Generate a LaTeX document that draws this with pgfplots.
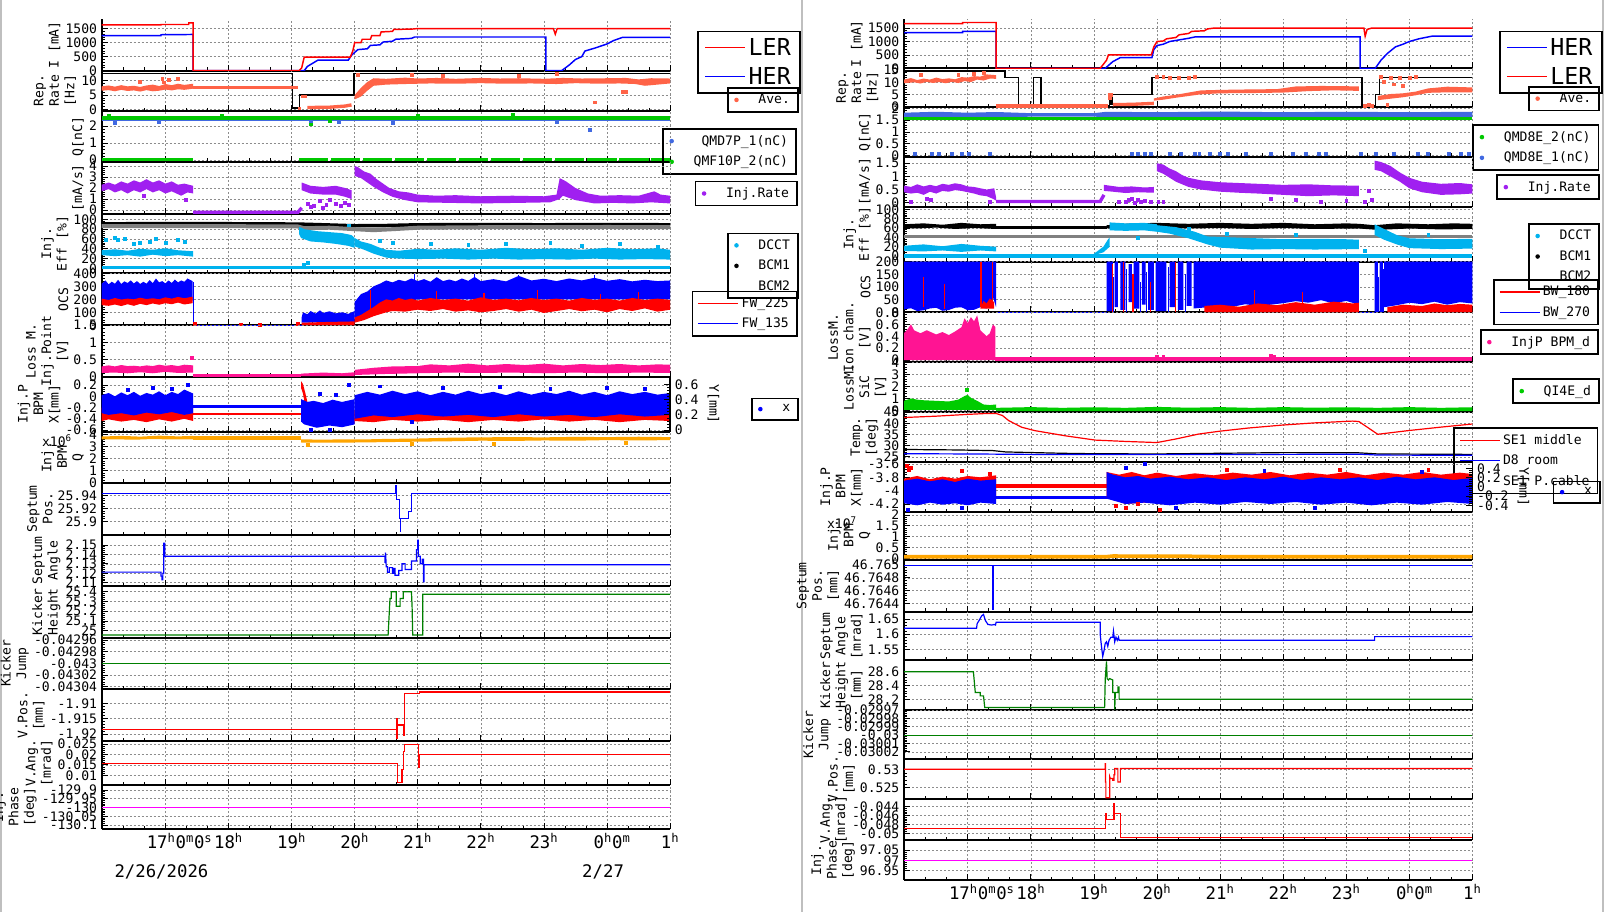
\documentclass[border=0pt]{standalone}
\usepackage{fontspec}
\setmainfont{DejaVu Sans Mono}
\usepackage{pgfplots}
\pgfplotsset{compat=1.18}
\definecolor{cLER}{RGB}{255,0,0}
\definecolor{cHER}{RGB}{0,0,255}
\definecolor{cAve}{RGB}{255,99,71}
\definecolor{cQg}{RGB}{0,200,0}
\definecolor{cQb}{RGB}{65,105,225}
\definecolor{cPur}{RGB}{160,32,240}
\definecolor{cDcct}{RGB}{0,178,238}
\definecolor{cGray}{RGB}{128,128,128}
\definecolor{cPink}{RGB}{255,20,147}
\definecolor{cOra}{RGB}{255,165,0}
\definecolor{cKick}{RGB}{0,128,0}
\definecolor{cMag}{RGB}{255,0,255}
\definecolor{cSic}{RGB}{0,204,0}
\newcommand\tf{\fontsize{9.8}{11}\selectfont}
\newcommand\yf{\fontsize{9.8}{11.6}\selectfont}
\newcommand\xf{\fontsize{13}{15}\selectfont}
\newcommand\bigf{\fontsize{17.5}{21}\selectfont}
\pgfplotsset{
 base/.style={scale only axis, width=426.3pt, anchor=north west, xmin=15.99, xmax=25, clip=true,
   scaled ticks=false, /pgf/number format/assume math mode=true, tick align=inside,
   tick label style={font=\tf}, major tick length=4.5pt, minor tick length=2.4pt,
   every tick/.style={black, line width=0.6pt}},
 panel/.style={base, xtick={17,...,25},
   minor xtick={16.3333,16.6667,17.3333,17.6667,18.3333,18.6667,19.3333,19.6667,20.3333,20.6667,21.3333,21.6667,22.3333,22.6667,23.3333,23.6667,24.3333,24.6667},
   xticklabels={}, axis x line*=bottom, axis y line*=left, axis line style={-, line width=1.3pt},
   grid=major, grid style={dash pattern=on 1.5pt off 1.5pt, black!45, line width=0.45pt},
   minor y tick num=4, ylabel style={font=\yf, align=center, at={(ticklabel cs:0.5,-3pt)}},
   legend style={draw=black, fill=none, line width=1.3pt, font=\tf, inner xsep=4pt, inner ysep=2.5pt, row sep=2.6pt},
   legend cell align=right},
 rpanel/.style={base, axis x line=none, axis y line*=right, axis line style={-, line width=1.1pt},
   minor y tick num=4, ylabel style={font=\yf, rotate=180}},
 bottomx/.style={xticklabels={\makebox[0pt][l]{\hspace*{-14pt}17\textsuperscript{h}0\textsuperscript{m}0\textsuperscript{s}},18\textsuperscript{h},19\textsuperscript{h},20\textsuperscript{h},21\textsuperscript{h},22\textsuperscript{h},23\textsuperscript{h},\makebox[0pt][l]{\hspace*{-10pt}0\textsuperscript{h}0\textsuperscript{m}},1\textsuperscript{h}},
   xticklabel style={font=\xf}},
 dotleg/.style={legend image code/.code={\path[draw=none] (0pt,0pt) -- (17pt,0pt); \fill[#1, draw=none] (2.5pt,0pt) circle (1.7pt);}},
 sq/.style={only marks, mark=square*, mark size=1.1pt, #1, forget plot},
 band/.style={draw=none, fill=#1, forget plot},
 ln/.style={#1, line width=1.1pt, forget plot},
}
\begin{document}
\begin{tikzpicture}
\useasboundingbox (0pt,0pt) rectangle (1204.5pt,-684pt);
\fill[white] (0pt,0pt) rectangle (1204.5pt,-684pt);
\draw[black!25, line width=1.5pt] (0.75pt,0pt) -- (0.75pt,-684pt);
\draw[black!25, line width=1.5pt] (601.5pt,0pt) -- (601.5pt,-684pt);
\draw[black!25, line width=1.5pt] (1202.5pt,0pt) -- (1202.5pt,-684pt);

% ================= LEFT COLUMN =================
% L1
\begin{axis}[panel, at={(76.275pt,-14.475pt)}, height=38.55pt, ymin=0, ymax=1830, ytick={0,500,1000,1500}, yticklabels={0,500,1000,1500}, ylabel={I [mA]},
 legend style={at={(axis description cs:1.048,0.778)}, anchor=north west, font=\bigf, inner xsep=5pt, inner ysep=3pt, row sep=3.5pt},
 legend image code/.code={\draw[#1] (0pt,0pt) -- (30pt,0pt);}]
\addlegendimage{cLER, line width=0.8pt}\addlegendentry{LER}
\addlegendimage{cHER, line width=0.8pt}\addlegendentry{HER}
\addplot[ln=cHER] coordinates {(15.99,1250)(16.93,1250)(16.93,1280)(17.44,1290)(17.44,0)(19.2,0)(19.25,150)(19.42,380)(19.9,380)(19.95,550)(20.05,750)(20.2,780)(20.25,900)(20.4,920)(20.45,1020)(20.6,1050)(20.65,1120)(20.9,1150)(20.95,1200)(23.03,1200)(23.03,0)(23.28,0)(23.4,200)(23.5,400)(23.6,500)(23.65,700)(23.8,800)(24.0,950)(24.1,1070)(24.25,1190)(25,1190)};
\addplot[ln=cLER] coordinates {(15.99,1630)(16.93,1630)(16.93,1645)(17.37,1645)(17.37,1700)(17.44,1700)(17.44,0)(19.12,0)(19.16,100)(19.2,480)(19.93,480)(19.97,700)(20.0,1000)(20.1,1000)(20.12,1120)(20.25,1120)(20.27,1250)(20.4,1250)(20.42,1380)(20.6,1400)(20.62,1470)(20.9,1480)(21.0,1500)(23.15,1500)(23.18,1300)(23.21,1500)(25,1500)};
\end{axis}

% L2
\begin{axis}[panel, at={(76.275pt,-53.025pt)}, height=30.225pt, ymin=-0.5, ymax=13.4, ytick={0,5,10}, yticklabels={0,5,10}, ylabel={Rep.\\Rate\\{}[Hz]},
 legend style={at={(axis description cs:1.1,0.588)}, anchor=north west}]
\addlegendimage{dotleg=cAve}\addlegendentry{Ave.}
\addplot[ln=black, line width=0.9pt] coordinates {(15.99,12.5)(19.02,12.5)(19.02,0.5)(19.12,0.5)(19.12,5)(19.99,5)(19.99,12.5)(25,12.5)};
\addplot[band=cAve] coordinates {(15.99,8.0)(16.1,8.3)(16.2,7.9)(16.3,8.4)(16.4,8.0)(16.5,8.2)(16.6,7.8)(16.7,8.3)(16.8,8.6)(16.9,8.1)(17.0,8.8)(17.1,8.4)(17.2,8.9)(17.3,8.5)(17.44,8.9)(17.44,7.2)(17.3,6.8)(17.2,7.0)(17.1,6.6)(17.0,6.9)(16.9,6.5)(16.8,6.3)(16.7,6.7)(16.6,6.2)(16.5,6.6)(16.4,6.4)(16.3,6.8)(16.2,6.3)(16.1,6.7)(15.99,6.5)};
\addplot[sq=cAve] coordinates {(16.95,10.6)(17.05,10.2)(17.2,10.5)(16.6,9.5)(16.97,9.4)};
\addplot[ln=cAve, line width=2.5pt] coordinates {(17.44,7.65)(19.1,7.65)};
\addplot[ln=cAve, line width=2.5pt] coordinates {(19.1,0.3)(19.15,0.3)};
\addplot[ln=cAve, line width=2.5pt] coordinates {(19.15,4.4)(19.25,4.4)};
\addplot[ln=cAve, line width=2.5pt] coordinates {(19.25,0.7)(19.6,0.8)(19.85,1.2)(19.95,1.6)};
\addplot[band=cAve] coordinates {(20.0,5.0)(20.1,7.5)(20.2,9.5)(20.3,10.8)(20.5,10.6)(20.8,11.0)(21.0,10.7)(21.3,10.9)(21.6,10.6)(22.0,10.9)(22.3,10.7)(22.6,10.8)(23.0,10.6)(23.3,10.9)(23.6,10.7)(24.0,10.8)(24.3,10.9)(24.5,10.4)(24.7,10.8)(25,10.7)(25,9.0)(24.8,8.6)(24.6,8.2)(24.45,8.8)(24.2,9.0)(23.9,8.9)(23.5,9.1)(23.2,8.8)(22.8,9.0)(22.4,8.9)(22.0,9.1)(21.6,8.9)(21.2,9.0)(20.8,8.8)(20.5,8.6)(20.3,8.2)(20.2,6.5)(20.1,4.5)(20.0,3.5)};
\addplot[sq=cAve] coordinates {(20.05,12.1)(20.9,12)(21.4,11.6)(23.2,12.2)(23.8,2.5)(24.25,6)(24.3,6.2)(22.6,11.8)};
\end{axis}

% L3
\begin{axis}[panel, at={(76.275pt,-83.25pt)}, height=38.025pt, ymin=-0.1, ymax=2.88, ytick={0,1,2}, yticklabels={0,1,2}, ylabel={Q[nC]},
 legend style={at={(axis description cs:0.986,0.659)}, anchor=north west}]
\addlegendimage{dotleg=cQb}\addlegendentry{QMD7P\_1(nC)}
\addlegendimage{dotleg=cQg}\addlegendentry{QMF10P\_2(nC)}
\addplot[ln=cQb, line width=2.2pt] coordinates {(15.99,2.35)(25,2.35)};
\addplot[sq=cQb] coordinates {(16.2,2.2)(16.9,2.22)(19.3,2.2)(19.75,2.22)(20.6,2.2)(23.2,2.22)(23.72,1.8)};
\addplot[ln=cQg, line width=3pt] coordinates {(15.99,2.48)(25,2.48)};
\addplot[sq=cQg] coordinates {(16.1,2.62)(17.9,2.62)(19.3,2.1)(19.6,2.3)(21.0,2.62)(22.5,2.64)};
\addplot[ln=cQg, line width=2.4pt] coordinates {(15.99,0.02)(17.44,0.02)};
\addplot[ln=cQg, line width=2.4pt, dash pattern=on 22pt off 2pt] coordinates {(19.12,0.02)(25,0.02)};
\end{axis}

% L4
\begin{axis}[panel, at={(76.275pt,-121.275pt)}, height=39.225pt, ymin=-0.36, ymax=4.39, ytick={0,1,2,3,4}, yticklabels={0,1,2,3,4}, ylabel={{}[mA/s]},
 legend style={at={(axis description cs:1.043,0.637)}, anchor=north west}]
\addlegendimage{dotleg=cPur}\addlegendentry{Inj.Rate}
\addplot[band=cPur] coordinates {(15.99,2.3)(16.1,2.5)(16.2,2.3)(16.3,2.6)(16.4,2.4)(16.5,2.7)(16.6,2.5)(16.7,2.8)(16.8,2.5)(16.9,2.7)(17.0,2.4)(17.1,2.6)(17.2,2.3)(17.3,2.4)(17.44,2.2)(17.44,1.5)(17.35,1.6)(17.25,1.3)(17.1,1.7)(17.0,1.5)(16.9,1.8)(16.8,1.6)(16.7,1.9)(16.6,1.6)(16.5,1.8)(16.4,1.5)(16.3,1.8)(16.2,1.6)(16.1,1.9)(15.99,1.7)};
\addplot[sq=cPur] coordinates {(16.65,1.3)(17.32,0.9)};
\addplot[ln=cPur, line width=2.5pt] coordinates {(17.44,-0.2)(19.1,-0.2)(19.16,0.2)};
\addplot[band=cPur] coordinates {(19.16,2.5)(19.3,2.2)(19.5,2.1)(19.7,2.2)(19.85,2.0)(19.95,1.8)(19.95,1.0)(19.85,1.2)(19.7,1.4)(19.5,1.4)(19.3,1.5)(19.16,1.8)};
\addplot[sq=cPur] coordinates {(19.25,0.6)(19.35,0.4)(19.45,0.8)(19.55,0.5)(19.6,0.9)(19.7,0.6)(19.78,0.35)(19.85,0.7)(19.9,0.5)(19.3,0.3)(19.5,0.2)};
\addplot[band=cPur] coordinates {(20.0,4.0)(20.05,3.9)(20.15,3.5)(20.25,3.3)(20.35,2.8)(20.45,2.4)(20.55,2.0)(20.7,1.7)(20.85,1.6)(21.0,1.4)(21.3,1.3)(21.6,1.35)(22.0,1.25)(22.5,1.3)(23.0,1.25)(23.2,1.4)(23.25,2.9)(23.35,2.6)(23.5,2.0)(23.7,1.5)(23.9,1.3)(24.2,1.35)(24.5,1.3)(24.75,1.7)(24.85,1.4)(25,1.3)(25,0.6)(24.7,0.7)(24.4,0.6)(24.1,0.65)(23.8,0.6)(23.5,0.9)(23.3,1.3)(23.25,1.0)(23.1,0.7)(22.6,0.65)(22.0,0.6)(21.5,0.65)(21.0,0.7)(20.8,0.9)(20.6,1.2)(20.45,1.6)(20.3,2.1)(20.2,2.5)(20.1,2.9)(20.0,3.1)};
\end{axis}

% L5
\begin{axis}[panel, at={(76.275pt,-160.5pt)}, height=44.475pt, ymin=-10, ymax=111, ytick={0,20,40,60,80,100}, yticklabels={0,20,40,60,80,100}, ylabel={Inj.\\Eff [\%]},
 legend style={at={(axis description cs:1.1,0.685)}, anchor=north west}]
\addlegendimage{dotleg=cDcct}\addlegendentry{DCCT}
\addlegendimage{dotleg=black}\addlegendentry{BCM1}
\addlegendimage{empty legend}\addlegendentry{BCM2}
\addplot[ln=black, line width=2.6pt] coordinates {(15.99,91)(17.44,91.5)(19.1,90.5)(19.5,89)(20.0,87)(20.5,87.5)(21,89)(22,89.5)(23,89)(24,89.5)(25,89)};
\addplot[ln=cGray, line width=3pt] coordinates {(15.99,86)(17.44,86.5)(19.1,85.5)(19.2,82)(19.6,83)(20.0,80)(20.3,78)(20.6,80)(21,83)(22,84)(23,84)(24,84.5)(25,84)};
\addplot[ln=cDcct, line width=2.5pt] coordinates {(15.99,2)(25,2)};
\addplot[band=cDcct] coordinates {(15.99,37)(16.2,39)(16.4,36)(16.6,40)(16.8,38)(17.0,41)(17.2,37)(17.44,35)(17.44,24)(17.2,27)(17.0,25)(16.8,28)(16.6,24)(16.4,27)(16.2,25)(15.99,27)};
\addplot[sq=cDcct] coordinates {(16.05,58)(16.2,62)(16.25,59)(16.35,60)(16.6,52)(16.75,55)(16.85,60)(17.0,52)(17.2,58)(17.3,55)(16.5,50)};
\addplot[band=cDcct] coordinates {(19.12,85)(19.2,80)(19.4,76)(19.6,74)(19.8,72)(19.95,68)(20.0,62)(20.0,42)(19.9,46)(19.7,50)(19.5,53)(19.3,55)(19.15,62)(19.12,70)};
\addplot[sq=cDcct] coordinates {(19.2,8)(19.25,12)(19.9,88)};
\addplot[band=cDcct] coordinates {(20.0,62)(20.1,55)(20.25,50)(20.4,42)(20.5,38)(20.7,36)(21.0,40)(21.3,38)(21.6,41)(22.0,38)(22.4,42)(22.8,39)(23.2,41)(23.6,38)(24.0,42)(24.4,39)(24.8,41)(25,38)(25,18)(24.6,19)(24.2,18)(23.8,20)(23.4,18)(23.0,19)(22.6,18)(22.2,20)(21.8,18)(21.4,20)(21.0,19)(20.7,20)(20.5,22)(20.3,30)(20.15,38)(20.0,45)};
\addplot[sq=cDcct] coordinates {(20.6,52)(21.2,50)(21.8,48)(22.4,50)(23.1,52)(23.6,47)(24.2,50)(24.8,45)(20.4,56)};
\end{axis}

% L6
\begin{axis}[panel, at={(76.275pt,-204.975pt)}, height=39pt, ymin=0, ymax=400, ytick={0,100,200,300,400}, yticklabels={0,100,200,300,400}, ylabel={OCS},
 legend style={at={(axis description cs:1.038,0.665)}, anchor=north west},
 legend image code/.code={\draw[#1] (0pt,0pt) -- (30pt,0pt);}]
\addlegendimage{cLER, line width=0.8pt}\addlegendentry{FW\_225}
\addlegendimage{cHER, line width=0.8pt}\addlegendentry{FW\_135}
\addplot[band=cHER] coordinates {(15.99,320)(16.05,345)(16.1,315)(16.15,335)(16.2,320)(16.25,350)(16.3,318)(16.35,338)(16.4,325)(16.45,345)(16.5,322)(16.55,340)(16.6,318)(16.65,335)(16.7,320)(16.75,348)(16.8,325)(16.85,360)(16.9,330)(16.95,340)(17.0,322)(17.05,345)(17.1,325)(17.15,352)(17.2,330)(17.25,345)(17.3,335)(17.35,360)(17.43,340)(17.43,190)(15.99,190)};
\addplot[band=cLER] coordinates {(15.99,205)(16.1,195)(16.2,210)(16.3,198)(16.4,205)(16.5,200)(16.6,212)(16.7,202)(16.8,208)(16.9,200)(17.0,215)(17.1,205)(17.2,218)(17.3,208)(17.43,220)(17.43,170)(17.3,160)(17.2,175)(17.1,162)(17.0,170)(16.9,158)(16.8,168)(16.7,155)(16.6,165)(16.5,150)(16.4,162)(16.3,148)(16.2,160)(16.1,150)(15.99,155)};
\addplot[ln=cHER, line width=0.9pt] coordinates {(17.44,330)(17.44,0)(19.16,0)};
\addplot[sq=cLER] coordinates {(17.46,15)(18.2,8)(18.5,6)(19.1,10)};
\addplot[band=cHER] coordinates {(19.16,60)(19.18,100)(19.25,85)(19.3,110)(19.38,90)(19.45,115)(19.5,95)(19.6,108)(19.7,92)(19.8,100)(19.9,88)(20.0,110)(20.0,20)(19.6,25)(19.16,20)};
\addplot[band=cLER] coordinates {(19.16,20)(19.5,25)(20.0,30)(20.0,0)(19.16,0)};
\addplot[band=cHER] coordinates {(20.0,180)(20.1,240)(20.2,260)(20.3,300)(20.4,320)(20.5,345)(20.6,330)(20.7,350)(20.8,338)(20.9,360)(21.0,340)(21.1,355)(21.2,335)(21.3,370)(21.4,340)(21.5,352)(21.6,338)(21.7,360)(21.8,342)(21.9,372)(22.0,340)(22.2,355)(22.4,338)(22.6,380)(22.8,345)(23.0,358)(23.2,340)(23.4,360)(23.6,345)(23.8,365)(24.0,342)(24.2,355)(24.4,338)(24.6,350)(24.8,340)(25,345)(25,200)(24,200)(23,200)(22,200)(21,200)(20.5,150)(20.2,100)(20.0,40)};
\addplot[band=cLER] coordinates {(20.0,60)(20.1,80)(20.2,110)(20.3,140)(20.4,175)(20.5,200)(20.6,190)(20.7,210)(20.8,195)(20.9,205)(21.0,190)(21.2,210)(21.4,195)(21.6,205)(21.8,190)(22.0,215)(22.2,195)(22.4,205)(22.6,192)(22.8,210)(23.0,195)(23.2,205)(23.4,190)(23.6,210)(23.8,195)(24.0,205)(24.2,190)(24.4,210)(24.6,195)(24.8,205)(25,195)(25,120)(24.8,105)(24.6,130)(24.4,110)(24.2,125)(24.0,100)(23.8,120)(23.6,108)(23.4,125)(23.2,110)(23.0,95)(22.8,120)(22.6,105)(22.4,125)(22.2,110)(22.0,100)(21.8,115)(21.6,105)(21.4,125)(21.2,110)(21.0,120)(20.8,105)(20.6,110)(20.5,100)(20.3,70)(20.15,40)(20.0,20)};
\addplot[ln=cLER, line width=0.8pt, unbounded coords=jump] coordinates {(20.25,120)(20.25,270)(20.25,nan)(21.3,150)(21.3,260)(21.3,nan)(22.05,160)(22.05,250)(22.05,nan)(22.9,150)(22.9,270)(22.9,nan)(23.9,160)(23.9,240)(23.9,nan)(24.5,150)(24.5,255)};
\addplot[ln=cHER, line width=0.8pt, unbounded coords=jump] coordinates {(21.9,300)(21.9,395)(21.9,nan)(22.6,300)(22.6,390)(22.6,nan)(23.8,300)(23.8,385)(23.8,nan)(20.95,300)(20.95,392)};
\end{axis}

% L7
\begin{axis}[panel, at={(76.275pt,-243.975pt)}, height=38.55pt, ymin=0, ymax=1.5, ytick={0,0.5,1,1.5}, yticklabels={0,0.5,1,1.5}, ylabel={Loss M.\\Inj.Point\\{}[V]}]
\addplot[band=cPink] coordinates {(15.99,0.3)(16.1,0.33)(16.2,0.3)(16.3,0.34)(16.4,0.31)(16.5,0.32)(16.6,0.3)(16.7,0.33)(16.8,0.31)(16.9,0.35)(17.0,0.32)(17.1,0.34)(17.2,0.31)(17.3,0.35)(17.44,0.33)(17.44,0.12)(17.2,0.11)(17.0,0.14)(16.8,0.1)(16.6,0.13)(16.4,0.1)(16.2,0.12)(15.99,0.11)};
\addplot[sq=cPink] coordinates {(17.42,0.56)};
\addplot[ln=cPink, line width=2.5pt] coordinates {(17.44,0.03)(19.15,0.03)};
\addplot[band=cPink] coordinates {(19.15,0.09)(19.5,0.12)(19.8,0.1)(20.0,0.13)(20.0,0.02)(19.15,0.02)};
\addplot[band=cPink] coordinates {(20.0,0.2)(20.3,0.26)(20.6,0.3)(21.0,0.31)(21.2,0.36)(21.5,0.33)(21.8,0.38)(22.1,0.33)(22.4,0.37)(22.7,0.34)(23.0,0.38)(23.3,0.33)(23.6,0.37)(23.9,0.34)(24.2,0.37)(24.5,0.33)(24.8,0.36)(25,0.35)(25,0.11)(24.5,0.12)(24.0,0.1)(23.5,0.12)(23.0,0.1)(22.5,0.12)(22.0,0.11)(21.5,0.12)(21.0,0.1)(20.5,0.08)(20.0,0.05)};
\end{axis}

% L8
\begin{axis}[panel, at={(76.275pt,-282.525pt)}, height=41.25pt, ymin=-0.63, ymax=0.35, ytick={-0.6,-0.4,-0.2,0,0.2}, yticklabels={-0.6,-0.4,-0.2,0,0.2}, ylabel={Inj.P\\BPM\\X[mm]},
 legend style={at={(axis description cs:1.142,0.618)}, anchor=north west}]
\addlegendimage{dotleg=cHER}\addlegendentry{x}
\addplot[band=cLER] coordinates {(15.99,-0.2)(16.2,-0.22)(16.4,-0.19)(16.6,-0.23)(16.8,-0.2)(17.0,-0.22)(17.2,-0.19)(17.44,-0.21)(17.44,-0.44)(17.3,-0.4)(17.1,-0.45)(16.9,-0.41)(16.7,-0.46)(16.5,-0.42)(16.3,-0.45)(16.1,-0.41)(15.99,-0.44)};
\addplot[band=cHER] coordinates {(15.99,0.02)(16.1,0.06)(16.2,0.0)(16.3,0.07)(16.4,0.02)(16.5,0.08)(16.6,0.01)(16.7,0.06)(16.8,0.03)(16.9,0.09)(17.0,0.02)(17.1,0.08)(17.2,0.04)(17.3,0.12)(17.44,0.05)(17.44,-0.3)(17.3,-0.33)(17.1,-0.28)(16.9,-0.32)(16.7,-0.29)(16.5,-0.34)(16.3,-0.3)(16.1,-0.33)(15.99,-0.3)};
\addplot[sq=cHER] coordinates {(16.8,0.15)(17.1,0.14)(17.35,0.2)(16.4,0.12)};
\addplot[ln=cHER, line width=2.3pt] coordinates {(17.44,-0.18)(19.15,-0.18)};
\addplot[ln=cLER, line width=1.8pt] coordinates {(17.44,-0.31)(19.15,-0.31)};
\addplot[band=cLER] coordinates {(19.15,0.27)(19.18,0.22)(19.22,0.05)(19.26,-0.15)(19.3,-0.25)(20.0,-0.28)(20.0,-0.48)(19.5,-0.5)(19.3,-0.45)(19.22,-0.2)(19.18,0.05)(19.15,0.15)};
\addplot[band=cHER] coordinates {(19.15,-0.05)(19.25,-0.1)(19.35,-0.08)(19.5,-0.12)(19.65,-0.06)(19.8,-0.1)(20.0,-0.05)(20.0,-0.5)(19.8,-0.55)(19.6,-0.52)(19.4,-0.56)(19.2,-0.5)(19.15,-0.45)};
\addplot[sq=cHER] coordinates {(19.45,0.05)(19.7,0.02)(19.9,0.2)(19.3,-0.6)(19.6,-0.6)};
\addplot[band=cLER] coordinates {(20.0,-0.24)(20.3,-0.21)(20.6,-0.25)(20.9,-0.2)(21.2,-0.24)(21.5,-0.21)(21.8,-0.25)(22.1,-0.2)(22.4,-0.24)(22.7,-0.21)(23.0,-0.25)(23.3,-0.2)(23.6,-0.24)(23.9,-0.21)(24.2,-0.25)(24.5,-0.21)(24.8,-0.24)(25,-0.22)(25,-0.44)(24.6,-0.42)(24.2,-0.46)(23.8,-0.42)(23.4,-0.45)(23.0,-0.41)(22.6,-0.45)(22.2,-0.42)(21.8,-0.46)(21.4,-0.42)(21.0,-0.45)(20.6,-0.42)(20.3,-0.46)(20.0,-0.44)};
\addplot[band=cHER] coordinates {(20.0,0.02)(20.2,0.08)(20.4,0.03)(20.6,0.1)(20.8,0.04)(21.0,0.09)(21.2,0.02)(21.4,0.08)(21.6,0.03)(21.8,0.1)(22.0,0.04)(22.2,0.08)(22.4,0.02)(22.6,0.09)(22.8,0.03)(23.0,0.08)(23.2,0.04)(23.4,0.1)(23.6,0.03)(23.8,0.08)(24.0,0.02)(24.2,0.09)(24.4,0.04)(24.6,0.08)(24.8,0.03)(25,0.06)(25,-0.33)(24.6,-0.36)(24.2,-0.32)(23.8,-0.37)(23.4,-0.33)(23.0,-0.36)(22.6,-0.32)(22.2,-0.37)(21.8,-0.33)(21.4,-0.36)(21.0,-0.32)(20.6,-0.37)(20.3,-0.34)(20.0,-0.4)};
\addplot[sq=cHER] coordinates {(20.4,0.18)(21.4,0.15)(22.3,0.17)(23.1,0.14)(24.0,0.16)(24.6,0.13)(20.9,-0.45)};
\end{axis}
\begin{axis}[rpanel, at={(76.275pt,-282.525pt)}, height=41.25pt, ymin=-0.02, ymax=0.7, ytick={0,0.2,0.4,0.6}, yticklabels={0,0.2,0.4,0.6}, ylabel={Y[mm]}]
\addplot[draw=none, forget plot] coordinates {(20,0.3)};
\end{axis}

% L9
\begin{axis}[panel, at={(76.275pt,-323.775pt)}, height=38.25pt, ymin=0, ymax=4.25, ytick={0,1,2,3,4}, yticklabels={0,1,2,3,4}, ylabel={Inj.\\BPM\\Q}]
\addplot[band=cOra] coordinates {(15.99,3.85)(16.3,3.9)(16.6,3.84)(16.9,3.92)(17.2,3.86)(17.44,3.9)(17.44,3.62)(17.1,3.6)(16.8,3.64)(16.5,3.58)(16.2,3.62)(15.99,3.6)};
\addplot[ln=cOra, line width=2.6pt] coordinates {(17.44,3.74)(19.15,3.74)};
\addplot[band=cOra] coordinates {(19.15,3.62)(19.5,3.58)(19.8,3.62)(20.1,3.6)(20.5,3.65)(21.0,3.68)(21.5,3.75)(22.0,3.78)(22.5,3.8)(23.0,3.78)(23.5,3.82)(24.0,3.8)(24.5,3.83)(25,3.8)(25,3.55)(24.5,3.52)(24.0,3.55)(23.5,3.5)(23.0,3.52)(22.5,3.48)(22.0,3.5)(21.5,3.45)(21.0,3.42)(20.5,3.38)(20.0,3.35)(19.5,3.33)(19.15,3.35)};
\addplot[sq=cOra] coordinates {(19.25,3.18)(20.9,3.25)(22.2,3.28)(24.3,3.3)};
\end{axis}

% L10
\begin{axis}[panel, at={(76.275pt,-362.025pt)}, height=39.225pt, ymin=-2.1, ymax=6, ytick={0,2,4}, yticklabels={25.9,25.92,25.94}, ylabel={Septum\\Pos.}]
\addplot[ln=cHER, line width=0.9pt] coordinates {(15.99,4.37)(20.655,4.37)(20.655,5.5)(20.66,5.5)(20.66,3.44)(20.706,3.44)(20.706,0.5)(20.72,0.5)(20.72,-1.6)(20.725,-1.6)(20.725,0.5)(20.85,0.5)(20.85,1.5)(20.903,1.5)(20.903,4.37)(25,4.37)};
\end{axis}

% L11
\begin{axis}[panel, at={(76.275pt,-401.25pt)}, height=38.25pt, ymin=2.1065, ymax=2.1606, ytick={2.11,2.12,2.13,2.14,2.15}, yticklabels={2.11,2.12,2.13,2.14,2.15}, ylabel={Septum\\Angle}]
\addplot[ln=cHER, line width=0.9pt] coordinates {(15.99,2.1212)(16.93,2.1212)(16.93,2.117)(16.945,2.117)(16.945,2.113)(16.96,2.113)(16.96,2.12)(16.975,2.12)(16.975,2.152)(16.99,2.152)(16.99,2.138)(20.48,2.138)(20.48,2.131)(20.49,2.142)(20.5,2.127)(20.52,2.127)(20.52,2.121)(20.55,2.121)(20.55,2.126)(20.6,2.126)(20.6,2.12)(20.62,2.12)(20.62,2.125)(20.64,2.125)(20.64,2.118)(20.7,2.118)(20.7,2.123)(20.75,2.123)(20.75,2.13)(20.8,2.13)(20.8,2.124)(20.9,2.124)(20.9,2.133)(20.98,2.133)(20.98,2.145)(21.0,2.145)(21.0,2.155)(21.01,2.155)(21.01,2.138)(21.04,2.138)(21.04,2.13)(21.07,2.13)(21.07,2.135)(21.09,2.135)(21.09,2.111)(21.1,2.111)(21.1,2.129)(25,2.129)};
\end{axis}

% L12
\begin{axis}[panel, at={(76.275pt,-439.5pt)}, height=38.775pt, ymin=24.928, ymax=25.458, ytick={25,25.1,25.2,25.3,25.4}, yticklabels={25,25.1,25.2,25.3,25.4}, ylabel={Kicker\\Height}]
\addplot[ln=cKick, line width=0.9pt] coordinates {(15.99,24.956)(20.53,24.956)(20.56,25.33)(20.58,25.33)(20.58,25.4)(20.66,25.4)(20.66,25.25)(20.72,25.25)(20.72,25.33)(20.77,25.33)(20.77,25.4)(20.9,25.4)(20.91,25.25)(20.92,24.956)(21.08,24.956)(21.08,25.373)(25,25.373)};
\end{axis}

% L13
\begin{axis}[panel, at={(76.275pt,-478.275pt)}, height=38.475pt, ymin=-4.4, ymax=4.4, ytick={-4,-2,0,2,4}, yticklabels={-0.04304,-0.04302,-0.043,-0.04298,-0.04296}, ylabel={Kicker\\Jump}]
\addplot[ln=cKick, line width=0.9pt] coordinates {(15.99,0)(25,0)};
\end{axis}

% L14
\begin{axis}[panel, at={(76.275pt,-516.75pt)}, height=39.225pt, ymin=-1.9224, ymax=-1.9053, ytick={-1.92,-1.915,-1.91}, yticklabels={-1.92,-1.915,-1.91}, ylabel={V.Pos.\\{}[mm]}]
\addplot[ln=cLER, line width=0.9pt] coordinates {(15.99,-1.9185)(20.66,-1.9185)(20.66,-1.9149)(20.67,-1.9149)(20.67,-1.9214)(20.68,-1.9214)(20.68,-1.9171)(20.78,-1.9171)(20.78,-1.9205)(20.79,-1.9205)(20.79,-1.9067)(21.03,-1.9067)(21.03,-1.9063)(25,-1.9063)};
\end{axis}

% L15
\begin{axis}[panel, at={(76.275pt,-555.975pt)}, height=32.775pt, ymin=0.00534, ymax=0.0263, ytick={0.01,0.015,0.02,0.025}, yticklabels={0.01,0.015,0.02,0.025}, ylabel={V.Ang.\\{}[mrad]}]
\addplot[ln=cLER, line width=0.9pt] coordinates {(15.99,0.0155)(20.68,0.0155)(20.68,0.0064)(20.75,0.0064)(20.75,0.0126)(20.77,0.0126)(20.77,0.0215)(20.79,0.0215)(20.79,0.0249)(21.01,0.0249)(21.01,0.0137)(21.02,0.0137)(21.02,0.0200)(25,0.0200)};
\end{axis}

% L16
\begin{axis}[panel, bottomx, at={(76.275pt,-588.75pt)}, height=33pt, ymin=-130.123, ymax=-129.871, ytick={-130.1,-130.05,-130,-129.95,-129.9}, yticklabels={-130.1,-130.05,-130,-129.95,-129.9}, ylabel={Inj.\\Phase\\{}[deg]}]
\addplot[ln=cMag, line width=0.9pt] coordinates {(15.99,-130)(25,-130)};
\end{axis}
\node[font=\xf] at (121.1pt,-654pt) {2/26/2026};
\node[font=\xf] at (452.3pt,-654pt) {2/27};
\node[font=\tf] at (42.75pt,-330.75pt) {x10\textsuperscript{6}};

% ================= RIGHT COLUMN =================
% R1
\begin{axis}[panel, at={(678pt,-14.475pt)}, height=36.75pt, ymin=0, ymax=1830, ytick={0,500,1000,1500}, yticklabels={0,500,1000,1500}, ylabel={I [mA]},
 legend style={at={(axis description cs:1.047,0.767)}, anchor=north west, font=\bigf, inner xsep=5pt, inner ysep=3pt, row sep=3.5pt},
 legend image code/.code={\draw[#1] (0pt,0pt) -- (30pt,0pt);}]
\addlegendimage{cHER, line width=0.8pt}\addlegendentry{HER}
\addlegendimage{cLER, line width=0.8pt}\addlegendentry{LER}
\addplot[ln=cHER] coordinates {(15.99,1335)(16.92,1335)(16.92,1380)(17.45,1380)(17.45,0)(19.18,0)(19.3,250)(19.42,400)(19.92,400)(19.95,700)(20.0,850)(20.1,900)(20.2,1000)(20.35,1060)(20.5,1120)(20.6,1170)(23.22,1170)(23.22,0)(23.46,0)(23.55,300)(23.65,550)(23.78,800)(23.9,900)(24.0,1000)(24.15,1100)(24.36,1200)(25,1200)};
\addplot[ln=cLER] coordinates {(15.99,1670)(16.92,1670)(16.92,1710)(17.45,1710)(17.45,0)(19.1,0)(19.2,300)(19.23,500)(19.91,500)(19.95,800)(20.0,1000)(20.1,1020)(20.15,1100)(20.3,1150)(20.35,1250)(20.5,1300)(20.55,1380)(20.75,1400)(20.8,1470)(20.9,1500)(23.28,1500)(23.3,1200)(23.33,1450)(23.4,1500)(25,1500)};
\end{axis}

% R2
\begin{axis}[panel, at={(678pt,-51.225pt)}, height=29.25pt, ymin=-0.1, ymax=15.8, ytick={0,5,10,15}, yticklabels={0,5,10,15}, ylabel={Rep.\\Rate\\{}[Hz]},
 legend style={at={(axis description cs:1.098,0.546)}, anchor=north west}]
\addlegendimage{dotleg=cAve}\addlegendentry{Ave.}
\addplot[ln=black, line width=0.9pt] coordinates {(15.99,14.7)(17.59,14.7)(17.59,12.2)(17.81,12.2)(17.81,0.5)(18.04,0.5)(18.04,12.2)(18.16,12.2)(18.16,0.5)(19.25,0.5)(19.25,5)(19.27,5)(19.27,1)(19.3,1)(19.3,5)(19.92,5)(19.92,12.2)(23.25,12.2)(23.25,0.5)(23.46,0.5)(23.46,5)(23.53,5)(23.53,12.2)(25,12.2)};
\addplot[band=cAve] coordinates {(15.99,11.2)(16.1,11.8)(16.2,11.0)(16.3,11.6)(16.4,11.2)(16.5,12.0)(16.6,11.4)(16.7,11.7)(16.8,11.3)(16.9,12.2)(17.0,12.0)(17.1,12.6)(17.2,12.4)(17.3,13.3)(17.45,13.0)(17.45,11.5)(17.35,11.6)(17.25,10.8)(17.15,11.2)(17.05,10.2)(16.95,10.6)(16.85,9.8)(16.75,10.3)(16.65,9.7)(16.55,10.2)(16.45,9.8)(16.35,10.3)(16.25,9.6)(16.15,10.1)(15.99,9.7)};
\addplot[sq=cAve] coordinates {(16.25,13.1)(16.85,13.0)(17.1,13.5)(17.25,13.8)};
\addplot[ln=cAve, line width=2.5pt] coordinates {(17.45,0.4)(19.22,0.4)};
\addplot[ln=cAve, line width=2.5pt] coordinates {(19.22,4.9)(19.3,4.9)};
\addplot[ln=cAve, line width=2.5pt] coordinates {(19.3,1.0)(19.6,1.1)(19.95,1.5)};
\addplot[band=cAve] coordinates {(19.95,3.5)(20.1,4.3)(20.3,5.0)(20.5,5.9)(20.7,6.8)(21.0,7.0)(21.5,7.2)(21.9,7.3)(22.2,8.4)(22.6,8.6)(23.0,8.5)(23.2,8.4)(23.2,6.6)(22.8,6.8)(22.4,6.5)(22.0,5.9)(21.5,5.7)(21.0,5.6)(20.7,5.2)(20.5,4.5)(20.3,3.8)(20.1,3.0)(19.95,2.6)};
\addplot[sq=cAve] coordinates {(19.25,3.7)(20.0,12.4)(20.1,12.3)(20.2,11.8)(20.35,12)(20.5,11.9)(20.6,12.2)(23.3,0.5)(23.35,0.9)(23.4,0.4)(23.55,12.2)(23.7,11.9)(23.85,12.1)(24.0,11.8)(24.1,12.2)(23.6,10.2)(23.75,9.3)(23.9,8.6)(23.65,1.0)};
\addplot[band=cAve] coordinates {(23.5,4.5)(23.7,5.3)(23.9,5.6)(24.1,6.3)(24.3,7.6)(24.6,8.3)(25,8.0)(25,6.0)(24.6,6.0)(24.3,5.8)(24.1,4.8)(23.9,4.0)(23.7,3.4)(23.5,2.8)};
\end{axis}

% R3
\begin{axis}[panel, at={(678pt,-80.475pt)}, height=37.05pt, ymin=-0.05, ymax=2.05, ytick={0,0.5,1,1.5,2}, yticklabels={0,0.5,1,1.5,2}, ylabel={Q[nC]},
 legend style={at={(axis description cs:1.0,0.656)}, anchor=north west}]
\addlegendimage{dotleg=cQg}\addlegendentry{QMD8E\_2(nC)}
\addlegendimage{dotleg=cQb}\addlegendentry{QMD8E\_1(nC)}
\addplot[band=cQb] coordinates {(15.99,1.82)(16.5,1.86)(17.0,1.82)(17.45,1.85)(18.0,1.8)(19.0,1.8)(19.2,1.86)(20.0,1.84)(21.0,1.87)(22.0,1.84)(23.0,1.86)(24.0,1.84)(25,1.86)(25,1.64)(24.0,1.62)(23.0,1.64)(22.0,1.62)(21.0,1.64)(20.0,1.62)(19.2,1.64)(19.0,1.65)(18.0,1.65)(17.45,1.63)(17.0,1.62)(16.5,1.64)(15.99,1.62)};
\addplot[ln=cQg, line width=2.5pt] coordinates {(15.99,1.58)(25,1.58)};
\addplot[sq=cQb] coordinates {(16.16,0.09)(16.43,0.09)(16.54,0.09)(16.75,0.09)(16.91,0.09)(17.02,0.09)(17.35,0.09)(19.6,0.09)(19.7,0.07)(19.8,0.09)(19.9,0.08)(20.2,0.09)(20.38,0.08)(20.6,0.09)(20.67,0.09)(20.83,0.08)(20.99,0.09)(21.12,0.08)(21.41,0.09)(21.81,0.09)(22.15,0.09)(22.36,0.09)(22.57,0.08)(22.68,0.09)(23.23,0.09)(23.47,0.08)(23.76,0.09)(24.13,0.09)(24.29,0.08)(24.63,0.09)(24.81,0.09)(24.94,0.09)};
\end{axis}

% R4
\begin{axis}[panel, at={(678pt,-117.525pt)}, height=37.5pt, ymin=-0.15, ymax=1.75, ytick={0,0.5,1,1.5}, yticklabels={0,0.5,1,1.5}, ylabel={{}[mA/s]},
 legend style={at={(axis description cs:1.042,0.648)}, anchor=north west}]
\addlegendimage{dotleg=cPur}\addlegendentry{Inj.Rate}
\addplot[band=cPur] coordinates {(15.99,0.65)(16.1,0.6)(16.2,0.7)(16.3,0.62)(16.4,0.68)(16.5,0.63)(16.6,0.72)(16.7,0.68)(16.8,0.74)(16.9,0.7)(17.0,0.62)(17.1,0.6)(17.2,0.55)(17.3,0.5)(17.42,0.55)(17.45,0.2)(17.45,0.08)(17.4,0.15)(17.3,0.25)(17.2,0.28)(17.1,0.35)(17.0,0.4)(16.9,0.45)(16.8,0.48)(16.7,0.42)(16.6,0.45)(16.5,0.35)(16.4,0.42)(16.3,0.3)(16.2,0.38)(16.1,0.35)(15.99,0.4)};
\addplot[sq=cPur] coordinates {(16.1,0.05)(16.35,0.15)(16.42,0.1)(16.75,0.6)(17.35,0.05)};
\addplot[ln=cPur, line width=2.5pt] coordinates {(17.45,0.05)(19.1,0.05)(19.16,0.3)};
\addplot[band=cPur] coordinates {(19.16,0.68)(19.4,0.6)(19.6,0.62)(19.8,0.58)(19.95,0.6)(19.95,0.38)(19.7,0.4)(19.5,0.37)(19.3,0.42)(19.16,0.45)};
\addplot[sq=cPur] coordinates {(19.4,0.05)(19.5,0.02)(19.55,0.1)(19.65,0.0)(19.75,0.04)(19.8,0.08)(19.9,0.02)(20.02,0.05)(20.1,0.02)(19.6,0.15)(19.7,0.12)(22.2,0.1)(22.6,0.05)(23.0,0.08)(23.3,0.05)(23.35,0.45)(23.4,0.12)(21.8,0.15)};
\addplot[band=cPur] coordinates {(20.0,1.5)(20.1,1.45)(20.2,1.3)(20.3,1.2)(20.4,1.05)(20.5,0.95)(20.7,0.85)(21.0,0.78)(21.3,0.75)(21.6,0.72)(22.0,0.68)(22.4,0.7)(22.8,0.66)(23.2,0.65)(23.2,0.25)(22.8,0.28)(22.4,0.25)(22.0,0.3)(21.6,0.35)(21.3,0.38)(21.0,0.42)(20.7,0.5)(20.5,0.6)(20.3,0.8)(20.2,0.95)(20.1,1.1)(20.0,1.2)};
\addplot[band=cPur] coordinates {(23.45,1.6)(23.55,1.55)(23.7,1.4)(23.85,1.15)(24.0,0.95)(24.2,0.8)(24.5,0.72)(24.8,0.75)(25,0.7)(25,0.35)(24.8,0.32)(24.5,0.3)(24.2,0.4)(24.0,0.55)(23.85,0.8)(23.7,1.0)(23.55,1.2)(23.45,1.25)};
\end{axis}

% R5
\begin{axis}[panel, at={(678pt,-155.025pt)}, height=41.25pt, ymin=-12, ymax=105.6, ytick={0,20,40,60,80,100}, yticklabels={0,20,40,60,80,100}, ylabel={Inj.\\Eff [\%]},
 legend style={at={(axis description cs:1.098,0.698)}, anchor=north west}]
\addlegendimage{dotleg=cDcct}\addlegendentry{DCCT}
\addlegendimage{dotleg=black}\addlegendentry{BCM1}
\addlegendimage{empty legend}\addlegendentry{BCM2}
\addplot[band=black] coordinates {(15.99,68)(16.3,70)(16.6,67)(16.9,71)(17.2,68)(17.45,69)(17.45,58)(17.1,60)(16.8,58)(16.5,61)(16.2,59)(15.99,60)};
\addplot[ln=black, line width=2.5pt] coordinates {(17.45,61)(19.2,61)};
\addplot[band=black] coordinates {(19.2,66)(19.6,70)(20.0,71)(20.5,69)(21.0,71)(21.5,69)(22.0,71)(22.5,68)(23.0,70)(23.2,69)(23.45,66)(23.8,70)(24.3,68)(24.7,70)(25,69)(25,58)(24.5,57)(24.0,59)(23.5,56)(23.2,59)(22.5,58)(22.0,60)(21.5,58)(21.0,60)(20.5,59)(20.0,61)(19.6,60)(19.2,59)};
\addplot[ln=cGray, line width=2.5pt] coordinates {(15.99,42)(25,42)};
\addplot[ln=cDcct, line width=2.5pt] coordinates {(15.99,0.5)(25,0.5)};
\addplot[band=cDcct] coordinates {(15.99,22)(16.3,25)(16.6,21)(16.9,26)(17.2,22)(17.45,20)(17.45,10)(17.2,12)(16.9,9)(16.6,12)(16.3,10)(15.99,11)};
\addplot[band=cDcct] coordinates {(19.0,5)(19.15,20)(19.22,35)(19.25,40)(19.25,20)(19.15,8)(19.0,2)};
\addplot[band=cDcct] coordinates {(19.25,72)(19.5,70)(19.8,71)(20.0,68)(20.0,52)(19.8,55)(19.5,54)(19.25,55)};
\addplot[band=cDcct] coordinates {(20.0,66)(20.3,62)(20.6,52)(20.8,42)(21.2,40)(21.6,38)(22.0,36)(22.5,37)(23.0,36)(23.2,35)(23.2,15)(22.5,14)(22.0,15)(21.5,14)(21.0,18)(20.8,25)(20.5,38)(20.2,48)(20.0,52)};
\addplot[band=cDcct] coordinates {(23.45,68)(23.6,58)(23.8,45)(24.0,38)(24.5,36)(25,37)(25,16)(24.5,15)(24.0,17)(23.8,25)(23.6,35)(23.45,45)};
\addplot[sq=cDcct] coordinates {(20.5,58)(21.1,48)(22.2,45)(24.3,45)(23.3,12)(19.7,40)};
\end{axis}

% R6
\begin{axis}[panel, at={(678pt,-196.275pt)}, height=37.95pt, ymin=0, ymax=200, ytick={0,50,100,150,200}, yticklabels={0,50,100,150,200}, ylabel={OCS},
 legend style={at={(axis description cs:1.036,0.652)}, anchor=north west},
 legend image code/.code={\draw[#1] (0pt,0pt) -- (30pt,0pt);}]
\addlegendimage{cLER, line width=0.8pt}\addlegendentry{BW\_180}
\addlegendimage{cHER, line width=0.8pt}\addlegendentry{BW\_270}
\addplot[band=cHER] coordinates {(15.99,200)(17.45,200)(17.45,20)(17.4,60)(17.35,30)(17.3,15)(17.2,20)(17.1,10)(17.0,8)(16.9,20)(16.8,18)(16.7,9)(16.6,6)(16.5,18)(16.4,15)(16.3,8)(16.2,5)(16.1,16)(16.0,12)(15.99,10)};
\addplot[ln=cHER, line width=0.9pt] coordinates {(17.45,0)(19.2,0)};
\addplot[ln=cHER, line width=0.9pt] coordinates {(23.2,0)(23.45,0)};
\addplot[band=cHER, unbounded coords=jump] coordinates {(19.2,5)(19.3,5)(19.3,200)(19.2,200)(19.2,nan)(19.33,20)(19.38,20)(19.38,200)(19.33,200)(19.33,nan)(19.42,10)(19.5,10)(19.5,200)(19.42,200)(19.42,nan)(19.55,40)(19.6,40)(19.6,190)(19.55,190)(19.55,nan)(19.63,15)(19.72,15)(19.72,200)(19.63,200)(19.63,nan)(19.76,30)(19.82,30)(19.82,200)(19.76,200)(19.76,nan)(19.86,10)(19.95,10)(19.95,200)(19.86,200)(19.86,nan)(19.98,5)(20.15,5)(20.15,200)(19.98,200)(19.98,nan)(20.2,20)(20.3,20)(20.3,200)(20.2,200)(20.2,nan)(20.33,10)(20.42,10)(20.42,200)(20.33,200)(20.33,nan)(20.47,25)(20.55,25)(20.55,200)(20.47,200)(20.47,nan)(23.45,0)(23.5,0)(23.5,200)(23.45,200)(23.45,nan)(23.53,0)(23.58,0)(23.58,200)(23.53,200)};
\addplot[band=cHER] coordinates {(20.58,200)(23.2,200)(23.2,30)(23.0,45)(22.8,35)(22.6,48)(22.4,38)(22.2,44)(22.0,36)(21.8,30)(21.6,25)(21.4,32)(21.2,22)(21.0,28)(20.8,20)(20.58,15)};
\addplot[band=cHER] coordinates {(23.6,200)(25,200)(25,35)(24.8,40)(24.6,30)(24.4,42)(24.2,32)(24.0,38)(23.8,28)(23.6,20)};
\addplot[ln=cHER, line width=0.8pt, unbounded coords=jump] coordinates {(19.315,0)(19.315,140)(19.315,nan)(19.52,0)(19.52,170)(19.52,nan)(19.74,0)(19.74,120)(19.74,nan)(19.84,0)(19.84,160)(19.84,nan)(20.18,0)(20.18,180)(20.18,nan)(20.45,0)(20.45,150)(20.45,nan)(23.515,0)(23.515,140)(23.515,nan)(23.59,0)(23.59,170)};
\addplot[band=cLER] coordinates {(20.75,0)(20.75,25)(21.0,30)(21.3,22)(21.6,35)(21.9,28)(22.2,40)(22.5,30)(22.8,42)(23.1,35)(23.2,38)(23.2,0)};
\addplot[band=cLER] coordinates {(23.65,0)(23.65,20)(23.9,30)(24.2,25)(24.4,35)(24.6,28)(24.8,33)(25,30)(25,0)};
\addplot[band=cLER] coordinates {(17.2,15)(17.25,45)(17.3,35)(17.35,55)(17.42,40)(17.42,15)};
\addplot[ln=cLER, line width=0.8pt, unbounded coords=jump] coordinates {(16.3,20)(16.3,140)(16.3,nan)(16.63,15)(16.63,110)(16.63,nan)(17.21,20)(17.21,200)(17.21,nan)(17.4,30)(17.4,200)(17.4,nan)(19.3,0)(19.3,190)(19.3,nan)(19.47,0)(19.47,200)(19.47,nan)(19.62,0)(19.62,150)(19.62,nan)(19.9,0)(19.9,120)(19.9,nan)(20.3,0)(20.3,200)(20.3,nan)(21.55,20)(21.55,90)(21.55,nan)(22.3,20)(22.3,80)};
\end{axis}

% R7
\begin{axis}[panel, at={(678pt,-234.225pt)}, height=37.5pt, ymin=-0.035, ymax=0.8, ytick={0,0.2,0.4,0.6,0.8}, yticklabels={0,0.2,0.4,0.6,0.8}, ylabel={LossM.\\Ion cham.\\{}[V]},
 legend style={at={(axis description cs:1.013,0.66)}, anchor=north west}]
\addlegendimage{dotleg=cPink}\addlegendentry{InjP BPM\_d}
\addplot[band=cPink] coordinates {(15.99,0.45)(16.05,0.52)(16.1,0.6)(16.15,0.5)(16.25,0.45)(16.35,0.5)(16.5,0.43)(16.6,0.47)(16.7,0.42)(16.8,0.48)(16.9,0.55)(16.95,0.7)(17.0,0.62)(17.05,0.72)(17.1,0.65)(17.15,0.75)(17.2,0.5)(17.3,0.4)(17.35,0.45)(17.4,0.6)(17.44,0.55)(17.44,0.0)(15.99,0.0)};
\addplot[ln=cPink, line width=2.8pt] coordinates {(17.44,0.02)(25,0.02)};
\addplot[sq=cPink] coordinates {(20.0,0.05)(20.1,0.05)(21.8,0.07)(21.85,0.06)};
\end{axis}

% R8
\begin{axis}[panel, at={(678pt,-271.725pt)}, height=37.05pt, ymin=-0.1, ymax=4, ytick={0,1,2,3,4}, yticklabels={0,1,2,3,4}, ylabel={LossM.\\SiC\\{}[V]},
 legend style={at={(axis description cs:1.07,0.676)}, anchor=north west}]
\addlegendimage{dotleg=cSic}\addlegendentry{QI4E\_d}
\addplot[band=cSic] coordinates {(15.99,0.8)(16.1,1.0)(16.2,0.9)(16.3,0.85)(16.5,0.8)(16.7,0.75)(16.85,0.9)(16.95,1.2)(17.0,1.3)(17.05,1.05)(17.15,0.8)(17.25,0.5)(17.35,0.45)(17.45,0.5)(17.45,0.05)(15.99,0.05)};
\addplot[sq=cSic] coordinates {(16.98,1.7)};
\addplot[band=cSic] coordinates {(17.45,0.22)(18.0,0.28)(18.5,0.22)(19.0,0.27)(19.5,0.22)(20.0,0.3)(20.5,0.23)(21.0,0.28)(21.5,0.22)(22.0,0.28)(22.5,0.23)(23.0,0.27)(23.5,0.22)(24.0,0.28)(24.5,0.22)(25,0.27)(25,-0.06)(17.45,-0.06)};
\end{axis}

% R9
\begin{axis}[panel, at={(678pt,-308.775pt)}, height=37.725pt, ymin=22.7, ymax=45.2, ytick={25,30,35,40,45}, yticklabels={25,30,35,40,45}, ylabel={Temp.\\{}[deg]},
 legend style={at={(axis description cs:0.966,0.69)}, anchor=north west}, legend cell align=left,
 legend image code/.code={\draw[#1] (0pt,0pt) -- (30pt,0pt);}]
\addlegendimage{cLER, line width=0.8pt}\addlegendentry{SE1 middle}
\addlegendimage{cHER, line width=0.8pt}\addlegendentry{D8 room}
\addlegendimage{empty legend}\addlegendentry{SE1 P.cable}
\addplot[ln=cLER, line width=0.9pt] coordinates {(15.99,42.6)(16.5,43.2)(17.0,44.0)(17.3,44.4)(17.45,44.4)(17.55,43.5)(17.65,41.2)(17.86,38.2)(18.07,36.7)(18.55,34.4)(19.02,32.5)(19.5,31.9)(20.0,31.4)(20.3,33)(20.66,35.2)(21.0,36.5)(21.45,37.9)(21.98,39.2)(22.5,40.2)(23.1,41.0)(23.2,40.8)(23.5,35.1)(24.0,36.8)(24.5,38.3)(25,39.7)};
\addplot[ln=black, line width=0.9pt] coordinates {(15.99,28.3)(16.8,28.1)(17.4,27.8)(17.6,27.2)(18.5,26.6)(19.0,26.4)(20,26.3)(21,26.6)(22.0,26.9)(23.2,26.8)(23.5,26.3)(25,26.1)};
\addplot[ln=cHER, line width=0.9pt] coordinates {(15.99,26.4)(17,26.3)(18,26.1)(20,26.0)(22,26.1)(23.2,26.2)(23.5,25.8)(25,25.7)};
\end{axis}

% R10
\begin{axis}[panel, at={(678pt,-346.5pt)}, height=37.275pt, ymin=-4.316, ymax=-3.57, ytick={-4.2,-4,-3.8,-3.6}, yticklabels={-4.2,-4,-3.8,-3.6}, ylabel={Inj.P\\BPM\\X[mm]},
 legend style={at={(axis description cs:1.141,0.624)}, anchor=north west}]
\addlegendimage{dotleg=cHER}\addlegendentry{x}
\addplot[band=cLER] coordinates {(15.99,-3.82)(16.2,-3.78)(16.4,-3.83)(16.6,-3.79)(16.8,-3.82)(17.0,-3.78)(17.2,-3.8)(17.45,-3.77)(17.45,-4.12)(17.2,-4.1)(17.0,-4.14)(16.8,-4.1)(16.6,-4.13)(16.4,-4.09)(16.2,-4.12)(15.99,-4.1)};
\addplot[sq=cLER] coordinates {(16.03,-3.62)(16.06,-3.68)(16.1,-3.65)(17.35,-3.75)(16.9,-3.7)};
\addplot[band=cHER] coordinates {(15.99,-3.85)(16.2,-3.82)(16.4,-3.86)(16.6,-3.83)(16.8,-3.87)(17.0,-3.82)(17.2,-3.85)(17.45,-3.83)(17.45,-4.2)(17.2,-4.18)(17.0,-4.22)(16.8,-4.19)(16.6,-4.21)(16.4,-4.18)(16.2,-4.22)(15.99,-4.19)};
\addplot[sq=cHER] coordinates {(16.05,-4.28)(16.9,-4.25)};
\addplot[ln=cLER, line width=2.3pt] coordinates {(17.45,-3.93)(19.2,-3.93)};
\addplot[ln=cHER, line width=2.3pt] coordinates {(17.45,-4.1)(19.2,-4.1)};
\addplot[band=cLER] coordinates {(19.2,-3.72)(19.4,-3.76)(19.6,-3.72)(19.8,-3.77)(20.0,-3.73)(20.3,-3.78)(20.6,-3.74)(20.9,-3.77)(21.2,-3.73)(21.5,-3.76)(21.8,-3.72)(22.1,-3.77)(22.4,-3.73)(22.7,-3.76)(23.0,-3.72)(23.3,-3.77)(23.6,-3.73)(23.9,-3.76)(24.2,-3.72)(24.5,-3.76)(24.8,-3.73)(25,-3.75)(25,-4.08)(24.6,-4.12)(24.2,-4.07)(23.8,-4.11)(23.4,-4.06)(23.0,-4.1)(22.6,-4.07)(22.2,-4.11)(21.8,-4.06)(21.4,-4.1)(21.0,-4.07)(20.6,-4.11)(20.2,-4.15)(19.8,-4.18)(19.5,-4.2)(19.2,-4.1)};
\addplot[band=cHER] coordinates {(19.2,-3.72)(19.3,-3.76)(19.5,-3.8)(19.7,-3.78)(19.9,-3.82)(20.2,-3.79)(20.5,-3.83)(20.8,-3.8)(21.1,-3.84)(21.4,-3.8)(21.7,-3.83)(22.0,-3.79)(22.3,-3.84)(22.6,-3.8)(22.9,-3.83)(23.2,-3.8)(23.5,-3.84)(23.8,-3.79)(24.1,-3.83)(24.4,-3.8)(24.7,-3.84)(25,-3.81)(25,-4.2)(24.6,-4.17)(24.2,-4.21)(23.8,-4.18)(23.4,-4.22)(23.0,-4.18)(22.6,-4.21)(22.2,-4.17)(21.8,-4.2)(21.4,-4.17)(21.0,-4.21)(20.6,-4.18)(20.2,-4.22)(19.8,-4.18)(19.5,-4.2)(19.2,-4.12)};
\addplot[sq=cLER] coordinates {(19.35,-4.22)(19.5,-4.25)(19.7,-4.2)(20.05,-4.28)(21.1,-3.68)(22.9,-3.69)(24.3,-3.68)};
\addplot[sq=cHER] coordinates {(19.5,-3.65)(19.8,-3.6)(20.3,-4.26)(21.7,-3.7)(22.5,-4.26)(24.2,-3.72)};
\end{axis}
\begin{axis}[rpanel, at={(678pt,-346.5pt)}, height=37.275pt, ymin=-0.54, ymax=0.54, ytick={-0.4,-0.2,0,0.2,0.4}, yticklabels={-0.4,-0.2,0,0.2,0.4}, ylabel={Y[mm]}]
\addplot[draw=none, forget plot] coordinates {(20,0)};
\end{axis}

% R11
\begin{axis}[panel, at={(678pt,-383.775pt)}, height=36.225pt, ymin=-0.08, ymax=2.15, ytick={0,0.5,1,1.5,2}, yticklabels={0,0.5,1,1.5,2}, ylabel={Inj.\\BPM\\Q}]
\addplot[ln=cOra, line width=2.8pt] coordinates {(15.99,0.07)(19.2,0.07)(19.3,0.1)(20.5,0.09)(21.0,0.07)(25,0.07)};
\end{axis}
\node[font=\tf] at (631.5pt,-392.25pt) {x10\textsuperscript{7}};

% R12
\begin{axis}[panel, at={(678pt,-420pt)}, height=38.775pt, ymin=2.7, ymax=10.8, ytick={4,6,8,10}, yticklabels={46.7644,46.7646,46.7648,46.765}, ylabel={Septum\\Pos.\\{}[mm]}]
\addplot[ln=cHER, line width=0.9pt] coordinates {(15.99,10)(25,10)};
\addplot[ln=cHER, line width=1.6pt] coordinates {(17.4,10)(17.4,2.9)};
\end{axis}

% R13
\begin{axis}[panel, at={(678pt,-458.775pt)}, height=36.225pt, ymin=1.515, ymax=1.674, ytick={1.55,1.6,1.65}, yticklabels={1.55,1.6,1.65}, ylabel={Septum\\Angle\\{}[mrad]}]
\addplot[ln=cHER, line width=0.9pt] coordinates {(15.99,1.6197)(17.14,1.6197)(17.15,1.635)(17.18,1.645)(17.22,1.66)(17.25,1.665)(17.28,1.645)(17.32,1.632)(17.38,1.63)(17.42,1.632)(17.44,1.63)(17.45,1.639)(19.1,1.639)(19.1,1.6)(19.12,1.56)(19.14,1.527)(19.16,1.545)(19.18,1.57)(19.2,1.575)(19.22,1.56)(19.24,1.58)(19.27,1.59)(19.3,1.59)(19.31,1.61)(19.33,1.575)(19.35,1.59)(19.37,1.58)(19.39,1.59)(19.4,1.5797)(23.45,1.5797)(23.45,1.592)(25,1.592)};
\end{axis}

% R14
\begin{axis}[panel, at={(678pt,-495pt)}, height=37.5pt, ymin=28.045, ymax=28.77, ytick={28.2,28.4,28.6}, yticklabels={28.2,28.4,28.6}, ylabel={Kicker\\Height\\{}[mm]}]
\addplot[ln=cKick, line width=0.9pt] coordinates {(15.99,28.6)(17.09,28.6)(17.1,28.5)(17.12,28.3)(17.2,28.3)(17.2,28.25)(17.25,28.25)(17.27,28.08)(19.17,28.08)(19.18,28.5)(19.2,28.75)(19.21,28.5)(19.23,28.48)(19.25,28.5)(19.3,28.48)(19.3,28.3)(19.33,28.3)(19.33,28.05)(19.34,28.3)(19.38,28.3)(19.38,28.38)(19.4,28.38)(19.4,28.2)(25,28.2)};
\end{axis}

% R15
\begin{axis}[panel, at={(678pt,-532.5pt)}, height=36.75pt, ymin=-2.85, ymax=3.0, ytick={-2,-1,0,1,2,3}, yticklabels={-0.03002,-0.03001,-0.03,-0.02999,-0.02998,-0.02997}, ylabel={Kicker\\Jump}]
\addplot[ln=cKick, line width=0.9pt] coordinates {(15.99,0)(25,0)};
\end{axis}

% R16
\begin{axis}[panel, at={(678pt,-569.25pt)}, height=30.225pt, ymin=0.5218, ymax=0.5328, ytick={0.525,0.53}, yticklabels={0.525,0.53}, ylabel={V.Pos.\\{}[mm]}]
\addplot[ln=cLER, line width=0.9pt] coordinates {(15.99,0.53)(19.18,0.53)(19.18,0.5315)(19.185,0.5315)(19.185,0.5265)(19.19,0.5265)(19.19,0.5222)(19.25,0.5222)(19.25,0.528)(19.26,0.5275)(19.3,0.5275)(19.3,0.527)(19.32,0.527)(19.32,0.5285)(19.33,0.5285)(19.33,0.5302)(19.38,0.5302)(19.38,0.5265)(19.42,0.5265)(19.42,0.5302)(25,0.5302)};
\end{axis}

% R17
\begin{axis}[panel, at={(678pt,-599.475pt)}, height=30.525pt, ymin=-0.0515, ymax=-0.04234, ytick={-0.05,-0.048,-0.046,-0.044}, yticklabels={-0.05,-0.048,-0.046,-0.044}, ylabel={V.Ang.\\{}[mrad]}]
\addplot[ln=cLER, line width=0.9pt] coordinates {(15.99,-0.0489)(19.18,-0.0489)(19.18,-0.0469)(19.19,-0.0469)(19.19,-0.0455)(19.2,-0.0455)(19.2,-0.0469)(19.32,-0.0469)(19.32,-0.0432)(19.33,-0.0432)(19.33,-0.0455)(19.42,-0.0455)(19.42,-0.0509)(25,-0.0509)};
\end{axis}

% R18
\begin{axis}[panel, bottomx, at={(678pt,-630pt)}, height=30pt, ymin=96.905, ymax=97.0985, ytick={96.95,97,97.05}, yticklabels={96.95,97,97.05}, ylabel={Inj.\\Phase\\{}[deg]}]
\addplot[ln=cMag, line width=0.9pt] coordinates {(15.99,97)(25,97)};
\end{axis}
\end{tikzpicture}
\end{document}
